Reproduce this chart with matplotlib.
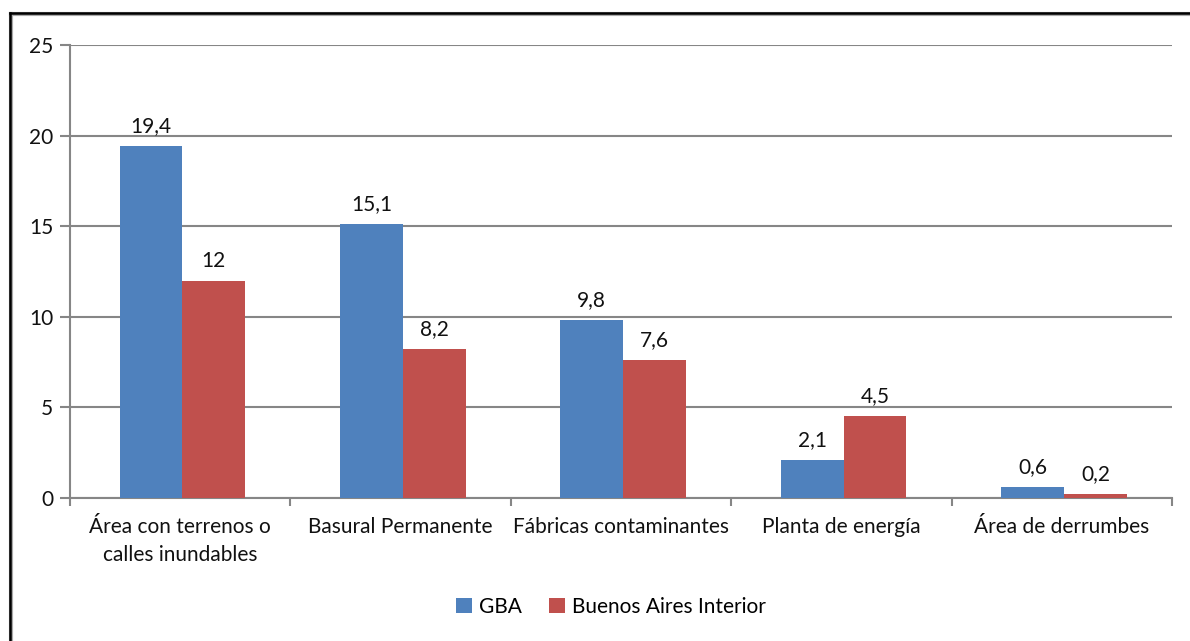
import matplotlib.pyplot as plt
import numpy as np
from matplotlib.lines import Line2D

categories = ['Área con terrenos o\ncalles inundables', 'Basural Permanente',
              'Fábricas contaminantes', 'Planta de energía', 'Área de derrumbes']
gba = [19.4, 15.1, 9.8, 2.1, 0.6]
interior = [12, 8.2, 7.6, 4.5, 0.2]
gba_labels = ['19,4', '15,1', '9,8', '2,1', '0,6']
interior_labels = ['12', '8,2', '7,6', '4,5', '0,2']

plt.rcParams['font.family'] = ['Lato', 'DejaVu Sans']
blue = '#4F81BD'
red = '#C0504D'
grid_c = '#868686'
fs = 15

fig = plt.figure(figsize=(11.9, 6.41), dpi=100)
ax = fig.add_axes([70 / 1190, 1 - 498 / 641, 1102 / 1190, 453 / 641])

x = np.arange(len(categories))
w = 0.285
b1 = ax.bar(x - w / 2 + 0.01, gba, w, color=blue, label='GBA', zorder=3)
b2 = ax.bar(x + w / 2 + 0.01, interior, w, color=red, label='Buenos Aires Interior', zorder=3)

for rect, lab in zip(b1, gba_labels):
    ax.text(rect.get_x() + rect.get_width() / 2, rect.get_height() + 0.55, lab,
            ha='center', va='bottom', fontsize=fs, color='#111111')
for rect, lab in zip(b2, interior_labels):
    ax.text(rect.get_x() + rect.get_width() / 2, rect.get_height() + 0.55, lab,
            ha='center', va='bottom', fontsize=fs, color='#111111')

ax.set_xlim(-0.5, len(categories) - 0.5)
ax.set_ylim(0, 25)
ax.set_yticks(range(0, 26, 5))
ax.yaxis.grid(True, color=grid_c, linewidth=1.5, zorder=0)
ax.set_axisbelow(True)

ax.set_xticks(x)
ax.set_xticklabels(categories, fontsize=fs, color='#111111', linespacing=1.45)
ax.tick_params(axis='x', length=0, pad=14)
ax.set_xticks(np.arange(-0.5, len(categories)), minor=True)
ax.tick_params(axis='x', which='minor', length=6, width=1.5, color=grid_c)
ax.tick_params(axis='y', length=7, width=1.5, color=grid_c, labelsize=fs,
               labelcolor='#111111', pad=5)

for s in ['top', 'right']:
    ax.spines[s].set_visible(False)
for s in ['left', 'bottom']:
    ax.spines[s].set_color(grid_c)
    ax.spines[s].set_linewidth(1.5)

ax.legend(loc='center', bbox_to_anchor=(611 / 1190, 1 - 607 / 641),
          bbox_transform=fig.transFigure, ncol=2, frameon=False, fontsize=fs,
          handlelength=0.75, handleheight=0.75, handletextpad=0.35, columnspacing=1.3)

# clipped outer frame (top and left edges)
fig.add_artist(Line2D([11 / 1190, 1], [1 - 14 / 641, 1 - 14 / 641], color='#aaaaaa',
                      linewidth=3, transform=fig.transFigure))
fig.add_artist(Line2D([11 / 1190, 11 / 1190], [0, 1 - 14 / 641], color='#aaaaaa',
                      linewidth=3, transform=fig.transFigure))
fig.add_artist(Line2D([10 / 1190, 1], [1 - 13 / 641, 1 - 13 / 641], color='black',
                      linewidth=1.8, transform=fig.transFigure))
fig.add_artist(Line2D([10 / 1190, 10 / 1190], [0, 1 - 13 / 641], color='black',
                      linewidth=1.8, transform=fig.transFigure))

fig.savefig('out.png', dpi=100)
